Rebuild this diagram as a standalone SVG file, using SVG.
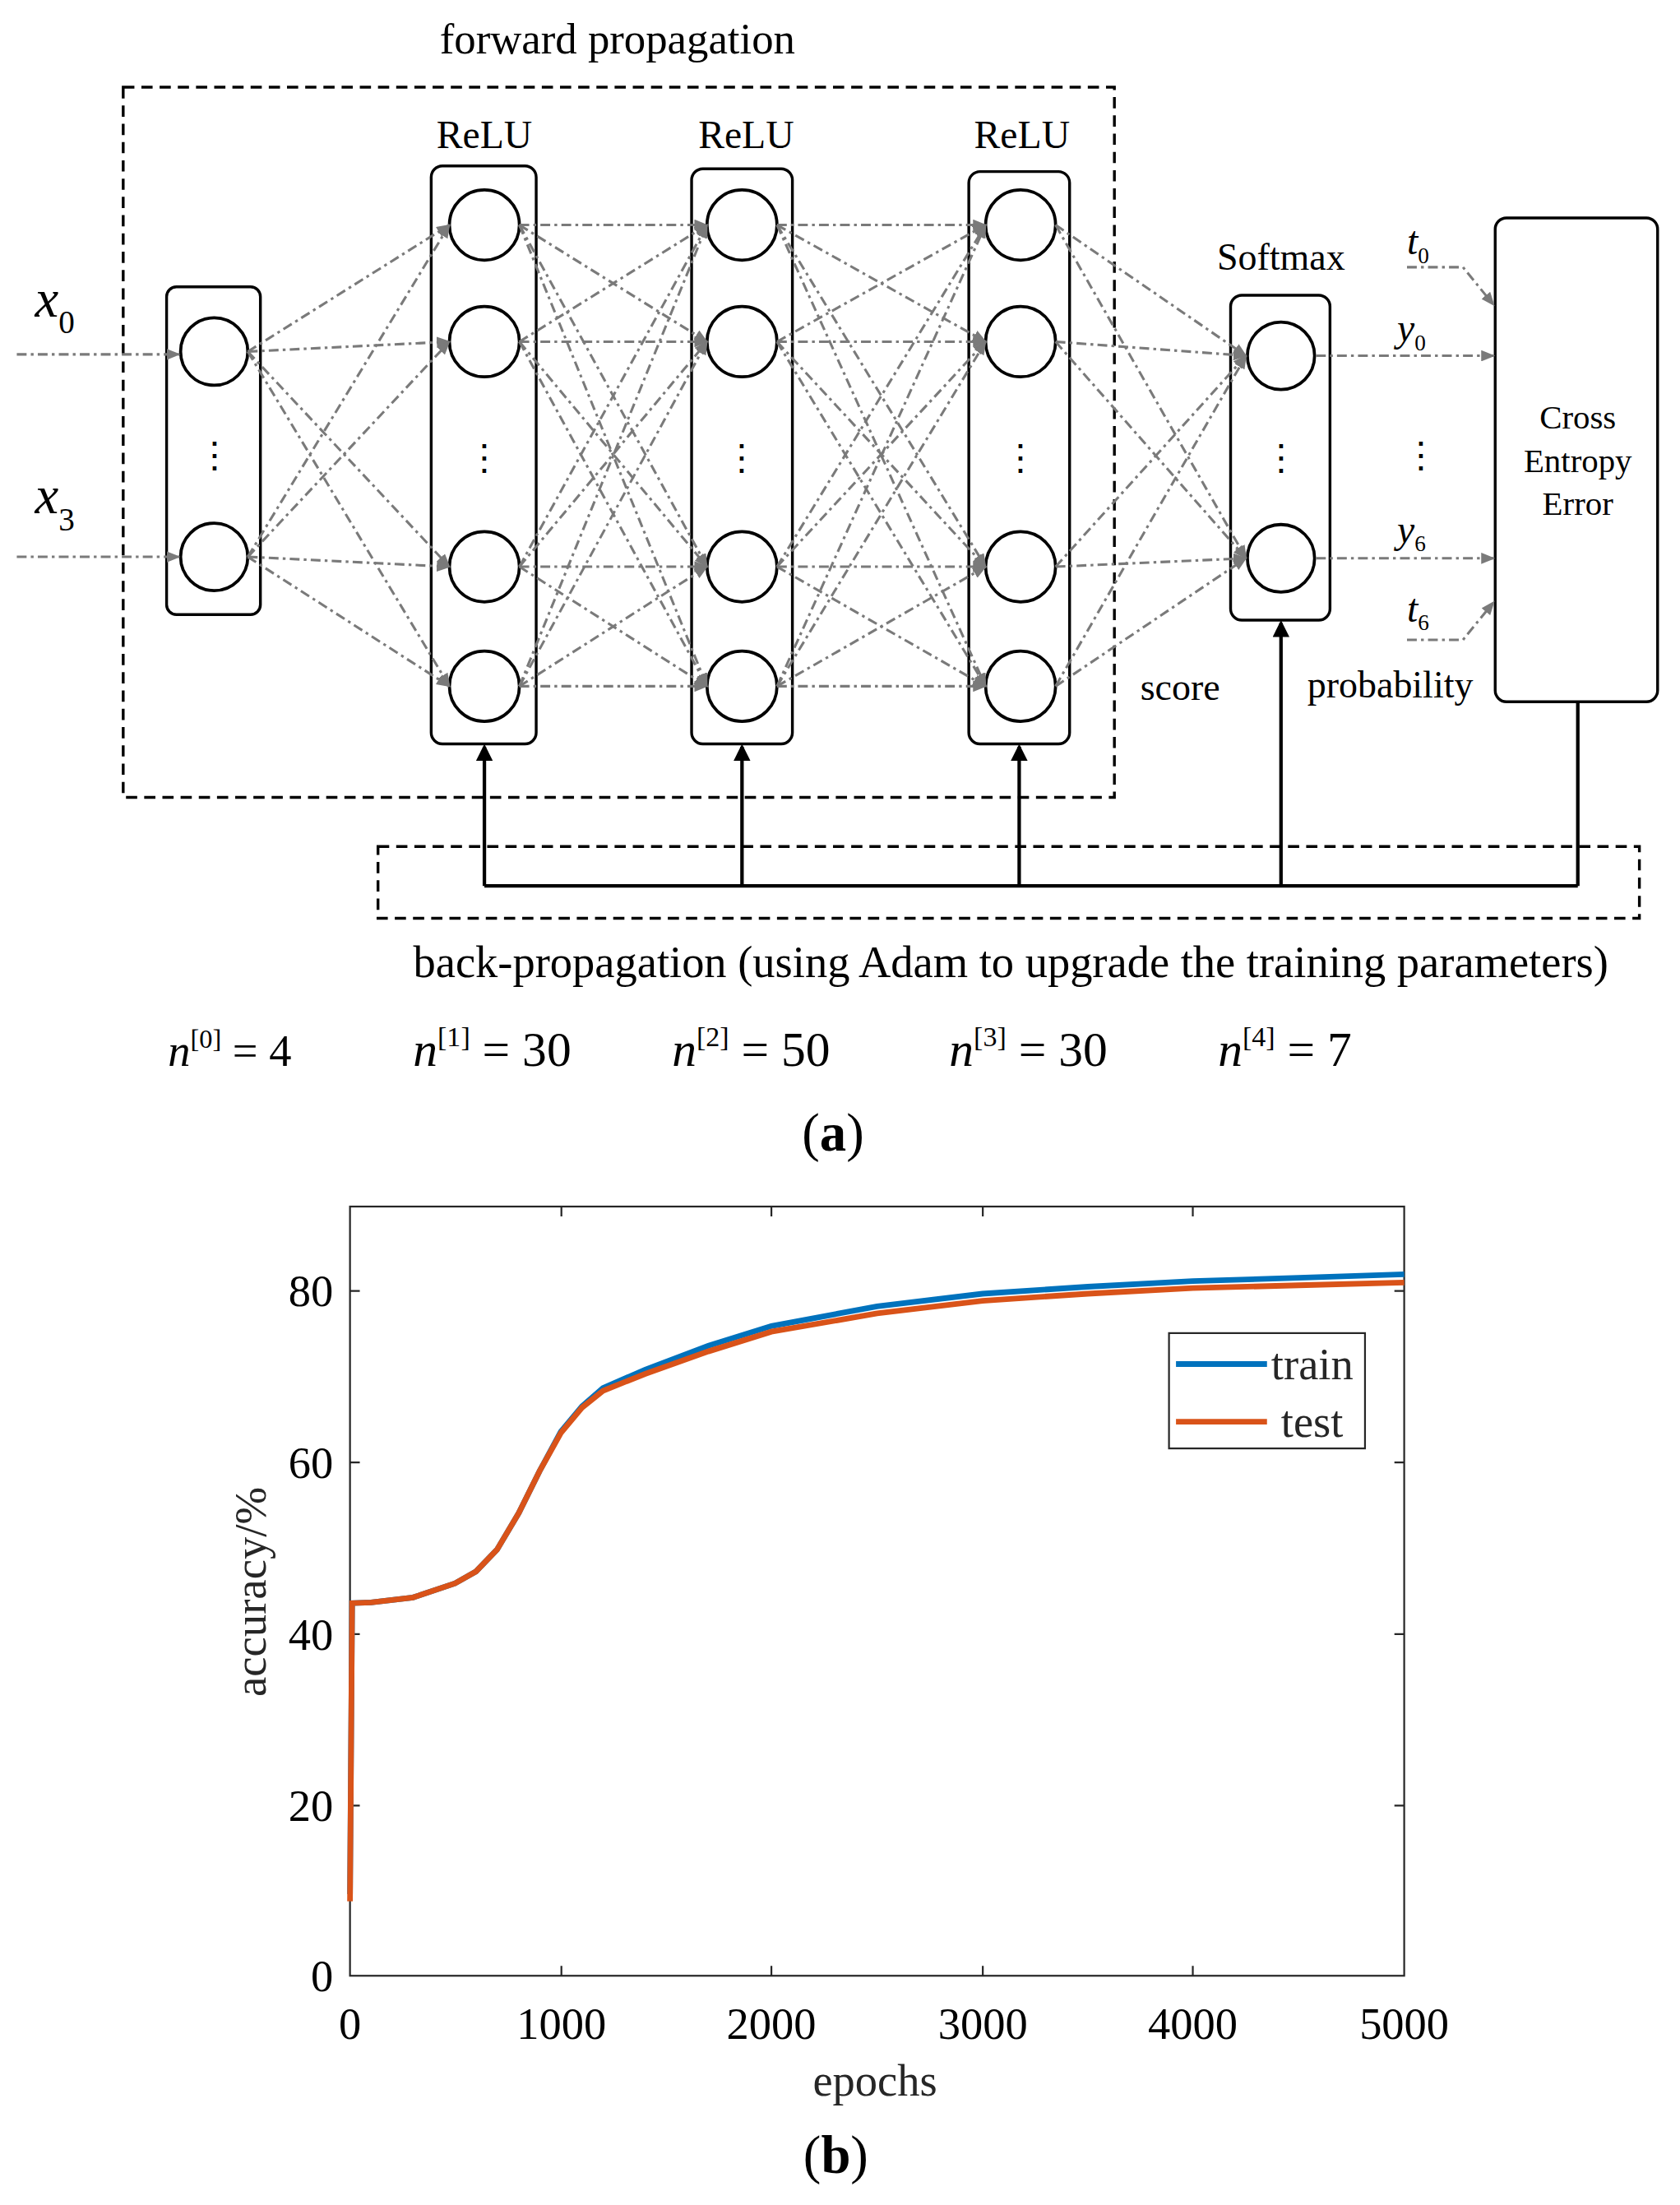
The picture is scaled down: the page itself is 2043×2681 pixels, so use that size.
<svg xmlns="http://www.w3.org/2000/svg" width="2043" height="2681" viewBox="0 0 2043 2681">
<style>
text,tspan{font-family:"Liberation Serif","Times New Roman",serif;fill:#000}
.box{fill:#fff;stroke:#000;stroke-width:2}
.nd{fill:#fff;stroke:#000;stroke-width:2.2}
.e{stroke:#7a7a7a;stroke-width:1.8;stroke-dasharray:7 3 2 3;fill:none;marker-end:url(#ga)}
.dash{fill:none;stroke:#000;stroke-width:2;stroke-dasharray:8 5}
.bp{stroke:#000;stroke-width:2.5;fill:none}
.bpa{stroke:#000;stroke-width:2.5;fill:none;marker-end:url(#ka)}
.ax{fill:none;stroke:#262626;stroke-width:1.3}
.tk{font-size:32px;fill:#262626}
</style>
<defs>
<marker id="ga" markerWidth="10" markerHeight="8" refX="9" refY="4" orient="auto" markerUnits="userSpaceOnUse"><path d="M0,0 L10,4 L0,8 Z" fill="#7a7a7a"/></marker>
<marker id="ka" markerWidth="12" markerHeight="12" refX="10" refY="6" orient="auto" markerUnits="userSpaceOnUse"><path d="M0,0 L12,6 L0,12 Z" fill="#000"/></marker>
</defs>
<rect width="2043" height="2681" fill="#fff"/>
<g transform="scale(1.7025,1.7098)">
<text x="441" y="38" font-size="31" text-anchor="middle">forward propagation</text>
<rect class="dash" x="88" y="62" width="708" height="505"/>
<rect class="dash" x="270" y="602" width="901" height="51"/>
<g id="layer0"><rect class="box" x="119" y="204" width="67" height="233" rx="7"/><circle class="nd" cx="153" cy="250" r="24"/><circle class="nd" cx="153" cy="396" r="24"/><text x="153" y="332" font-size="26" text-anchor="middle">⋮</text></g>
<g id="layer1"><text x="346" y="105" font-size="28" text-anchor="middle">ReLU</text><rect class="box" x="308" y="118" width="75" height="411" rx="8"/><circle class="nd" cx="346" cy="160" r="25"/><circle class="nd" cx="346" cy="243" r="25"/><circle class="nd" cx="346" cy="403" r="25"/><circle class="nd" cx="346" cy="488" r="25"/><text x="346" y="334" font-size="26" text-anchor="middle">⋮</text></g>
<g id="layer2"><text x="533" y="105" font-size="28" text-anchor="middle">ReLU</text><rect class="box" x="494" y="120" width="72" height="409" rx="8"/><circle class="nd" cx="530" cy="160" r="25"/><circle class="nd" cx="530" cy="243" r="25"/><circle class="nd" cx="530" cy="403" r="25"/><circle class="nd" cx="530" cy="488" r="25"/><text x="530" y="334" font-size="26" text-anchor="middle">⋮</text></g>
<g id="layer3"><text x="730" y="105" font-size="28" text-anchor="middle">ReLU</text><rect class="box" x="692" y="122" width="72" height="407" rx="8"/><circle class="nd" cx="729" cy="160" r="25"/><circle class="nd" cx="729" cy="243" r="25"/><circle class="nd" cx="729" cy="403" r="25"/><circle class="nd" cx="729" cy="488" r="25"/><text x="729" y="334" font-size="26" text-anchor="middle">⋮</text></g>
<g id="softmax"><text x="915" y="192" font-size="27" text-anchor="middle">Softmax</text><rect class="box" x="879" y="210" width="71" height="231" rx="8"/><circle class="nd" cx="915" cy="253" r="24"/><circle class="nd" cx="915" cy="397" r="24"/><text x="915" y="334" font-size="26" text-anchor="middle">⋮</text></g>
<g id="cee"><rect class="box" x="1068" y="155" width="116" height="344" rx="8"/><text x="1127" y="305" font-size="24" text-anchor="middle">Cross</text><text x="1127" y="336" font-size="24" text-anchor="middle">Entropy</text><text x="1127" y="366" font-size="24" text-anchor="middle">Error</text></g>
<g id="edges">
<path class="e" d="M177,250L321,160"/><path class="e" d="M177,250L321,243"/><path class="e" d="M177,250L321,403"/><path class="e" d="M177,250L321,488"/>
<path class="e" d="M177,396L321,160"/><path class="e" d="M177,396L321,243"/><path class="e" d="M177,396L321,403"/><path class="e" d="M177,396L321,488"/>
<path class="e" d="M371,160L505,160"/><path class="e" d="M371,160L505,243"/><path class="e" d="M371,160L505,403"/><path class="e" d="M371,160L505,488"/>
<path class="e" d="M371,243L505,160"/><path class="e" d="M371,243L505,243"/><path class="e" d="M371,243L505,403"/><path class="e" d="M371,243L505,488"/>
<path class="e" d="M371,403L505,160"/><path class="e" d="M371,403L505,243"/><path class="e" d="M371,403L505,403"/><path class="e" d="M371,403L505,488"/>
<path class="e" d="M371,488L505,160"/><path class="e" d="M371,488L505,243"/><path class="e" d="M371,488L505,403"/><path class="e" d="M371,488L505,488"/>
<path class="e" d="M555,160L704,160"/><path class="e" d="M555,160L704,243"/><path class="e" d="M555,160L704,403"/><path class="e" d="M555,160L704,488"/>
<path class="e" d="M555,243L704,160"/><path class="e" d="M555,243L704,243"/><path class="e" d="M555,243L704,403"/><path class="e" d="M555,243L704,488"/>
<path class="e" d="M555,403L704,160"/><path class="e" d="M555,403L704,243"/><path class="e" d="M555,403L704,403"/><path class="e" d="M555,403L704,488"/>
<path class="e" d="M555,488L704,160"/><path class="e" d="M555,488L704,243"/><path class="e" d="M555,488L704,403"/><path class="e" d="M555,488L704,488"/>
<path class="e" d="M754,160L890,253"/><path class="e" d="M754,160L890,397"/><path class="e" d="M754,243L890,253"/><path class="e" d="M754,243L890,397"/>
<path class="e" d="M754,403L890,253"/><path class="e" d="M754,403L890,397"/><path class="e" d="M754,488L890,253"/><path class="e" d="M754,488L890,397"/>
<path class="e" d="M12,252L128,252"/><path class="e" d="M12,396L128,396"/>
<path class="e" d="M940,253L1067,253"/><path class="e" d="M940,397L1067,397"/>
<path class="e" d="M1005,190L1045,190L1067,217"/><path class="e" d="M1005,455L1045,455L1067,428"/>
</g>
<g id="backprop">
<path class="bp" d="M346,630L1127,630M1127,499L1127,630"/>
<path class="bpa" d="M346,630L346,531"/><path class="bpa" d="M530,630L530,531"/><path class="bpa" d="M728,630L728,531"/><path class="bpa" d="M915,630L915,443"/>
</g>
<g id="labels">
<text x="25" y="225" font-size="38" font-style="italic">x<tspan font-size="23" font-style="normal" dy="12">0</tspan></text>
<text x="25" y="365" font-size="38" font-style="italic">x<tspan font-size="23" font-style="normal" dy="12">3</tspan></text>
<text x="998" y="243" font-size="28" font-style="italic">y<tspan font-size="16" font-style="normal" dy="6">0</tspan></text>
<text x="998" y="386" font-size="28" font-style="italic">y<tspan font-size="16" font-style="normal" dy="6">6</tspan></text>
<text x="1005" y="181" font-size="28" font-style="italic">t<tspan font-size="16" font-style="normal" dy="6">0</tspan></text>
<text x="1005" y="442" font-size="28" font-style="italic">t<tspan font-size="16" font-style="normal" dy="6">6</tspan></text>
<text x="1015" y="332" font-size="26" text-anchor="middle">⋮</text>
<text x="843" y="498" font-size="27" text-anchor="middle">score</text>
<text x="993" y="496" font-size="27" text-anchor="middle">probability</text>
<text x="722" y="695" font-size="32" text-anchor="middle">back-propagation (using Adam to upgrade the training parameters)</text>
<text x="120" y="758" font-size="32"><tspan font-style="italic">n</tspan><tspan font-size="19" dy="-13">[0]</tspan><tspan dy="13"> = 4</tspan></text>
<text x="295" y="758" font-size="35"><tspan font-style="italic">n</tspan><tspan font-size="20" dy="-14">[1]</tspan><tspan dy="14"> = 30</tspan></text>
<text x="480" y="758" font-size="35"><tspan font-style="italic">n</tspan><tspan font-size="20" dy="-14">[2]</tspan><tspan dy="14"> = 50</tspan></text>
<text x="678" y="758" font-size="35"><tspan font-style="italic">n</tspan><tspan font-size="20" dy="-14">[3]</tspan><tspan dy="14"> = 30</tspan></text>
<text x="870" y="758" font-size="35"><tspan font-style="italic">n</tspan><tspan font-size="20" dy="-14">[4]</tspan><tspan dy="14"> = 7</tspan></text>
<text x="595" y="818" font-size="38" text-anchor="middle">(<tspan font-weight="bold">a</tspan>)</text>
</g>
<g id="plot">
<rect class="ax" x="250" y="858" width="753" height="547" fill="#fff"/>
<path class="ax" d="M250,1284h7M250,1162h7M250,1040h7M250,918h7M1003,1284h-7M1003,1162h-7M1003,1040h-7M1003,918h-7M401,1405v-7M551,1405v-7M702,1405v-7M852,1405v-7M401,858v7M551,858v7M702,858v7M852,858v7"/>
<g class="tk" text-anchor="end"><text x="238" y="1416">0</text><text x="238" y="1295">20</text><text x="238" y="1173">40</text><text x="238" y="1051">60</text><text x="238" y="929">80</text></g>
<g class="tk" text-anchor="middle"><text x="250" y="1450">0</text><text x="401" y="1450">1000</text><text x="551" y="1450">2000</text><text x="702" y="1450">3000</text><text x="852" y="1450">4000</text><text x="1003" y="1450">5000</text></g>
<text class="tk" x="625" y="1490" text-anchor="middle">epochs</text>
<text class="tk" transform="translate(190,1132) rotate(-90)" text-anchor="middle">accuracy/%</text>
<polyline fill="none" stroke="#0072BD" stroke-width="4" points="250,1347 251.5,1140 265,1139.5 295,1136 325,1126 340,1117.5 355,1102 370.5,1076 385.5,1046 400.6,1018 415.7,1000 430.7,987 460.8,974 506,957 551,943 626.5,929 701.8,920 777,915 852,911 927.7,908.7 1003,906.2"/>
<polyline fill="none" stroke="#D95319" stroke-width="4" points="250,1352 251.5,1140 265,1139.5 295,1136 325,1126 340,1117.5 355,1102 370.5,1076 385.5,1046 400.6,1019 415.7,1001 430.7,989 460.8,977 506,961 551,947 626.5,934 701.8,925 777,920 852,916 927.7,914 1003,912"/>
<rect x="835" y="948" width="140" height="82" fill="#fff" stroke="#262626" stroke-width="1.3"/>
<line x1="840" y1="970" x2="905" y2="970" stroke="#0072BD" stroke-width="4"/>
<line x1="840" y1="1011" x2="905" y2="1011" stroke="#D95319" stroke-width="4"/>
<text class="tk" x="908" y="981">train</text>
<text class="tk" x="915" y="1022">test</text>
<text x="597" y="1545" font-size="38" text-anchor="middle">(<tspan font-weight="bold">b</tspan>)</text>
</g>
</g>
</svg>
